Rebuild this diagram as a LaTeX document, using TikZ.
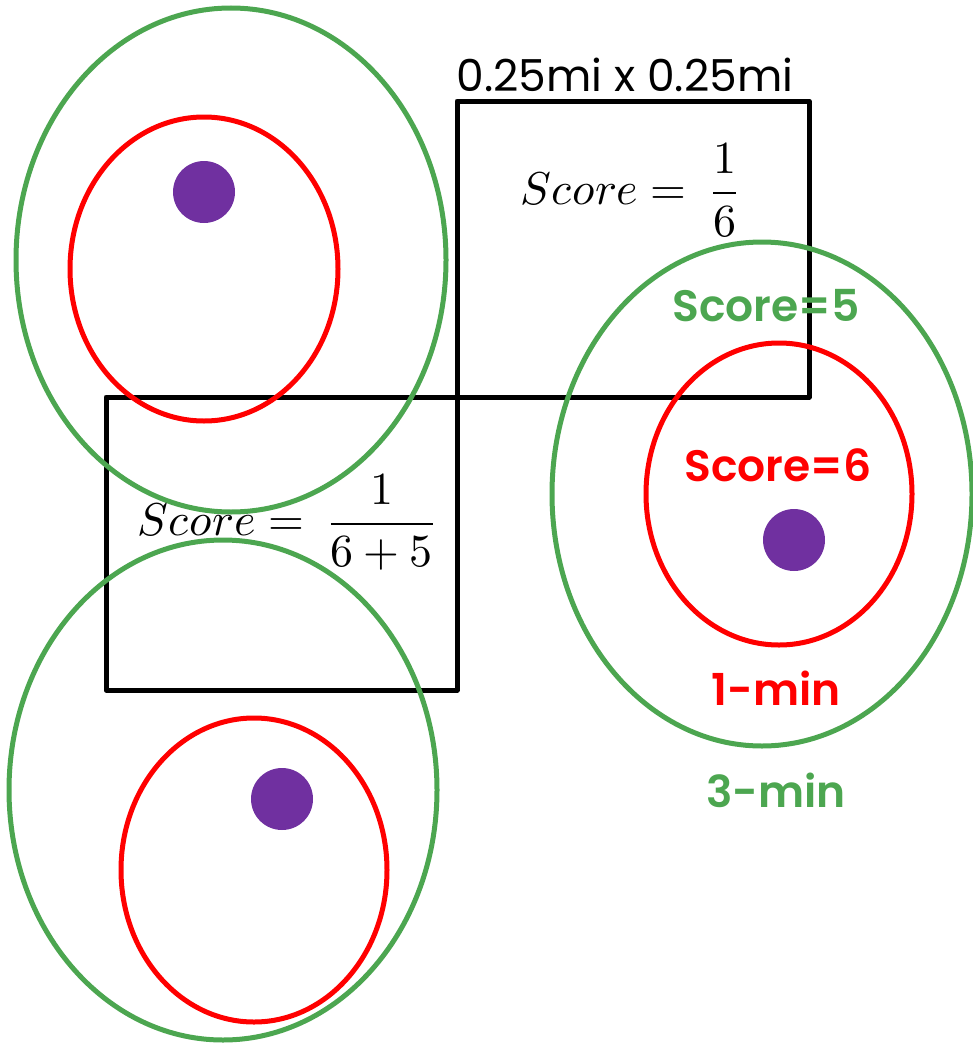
\documentclass[tikz,border=0pt]{standalone}
\usepackage{fontspec}
\usepackage{unicode-math}
\setmainfont{Poppins}
\setmathfont{Latin Modern Math}
\IfFontExistsTF{Poppins SemiBold}{\newfontfamily\lblfont{Poppins SemiBold}}{\newfontfamily\lblfont{Poppins}[UprightFont=*-Bold]}
\definecolor{grn}{RGB}{76,166,80}
\definecolor{rd}{RGB}{255,0,0}
\definecolor{prp}{RGB}{112,48,160}
\begin{document}
\begin{tikzpicture}[x=1pt,y=-1pt,
  outer/.style={draw=grn,line width=5pt},
  inner/.style={draw=rd,line width=5pt},
  block/.style={draw=black,line width=5pt,line join=round},
  site/.style={fill=prp},
  lbl/.style={font=\fontsize{44}{48}\lblfont,inner sep=0pt},
  mth/.style={font=\fontsize{46}{52}\selectfont,inner sep=0pt}]
\useasboundingbox (0,0) rectangle (972,1044);
% blocks
\draw[block] (457,101) rectangle (809,397);
\draw[block] (106,397) rectangle (457,690);
% top-left
\draw[outer] (231,260) ellipse [x radius=215,y radius=252];
\draw[inner] (204,269) ellipse [x radius=134,y radius=152];
\fill[site] (204,192) circle (31);
% right
\draw[outer] (762,494) ellipse [x radius=210,y radius=252];
\draw[inner] (779,494) ellipse [x radius=133,y radius=151];
\fill[site] (794,540) circle (31);
% bottom-left
\draw[outer] (223,790) ellipse [x radius=214,y radius=250];
\draw[inner] (254,870) ellipse [x radius=133,y radius=152];
\fill[site] (282,799) circle (31);
% labels
\node[font=\fontsize{44}{48}\selectfont,inner sep=0pt] (size) at (625,75) {0.25mi x 0.25mi};
\node[mth] (s1) at (629,190) {$\displaystyle Score = \;\frac{1}{6}$};
\node[mth] (s2) at (286,522) {$\displaystyle Score = \;\frac{1}{6+5}$};
\node[lbl,text=grn] (g5) at (766,306) {Score=5};
\node[lbl,text=rd] (r6) at (778,465) {Score=6};
\node[lbl,text=rd] (m1) at (776,688) {1-min};
\node[lbl,text=grn] (m3) at (776,790) {3-min};
\end{tikzpicture}
\end{document}
